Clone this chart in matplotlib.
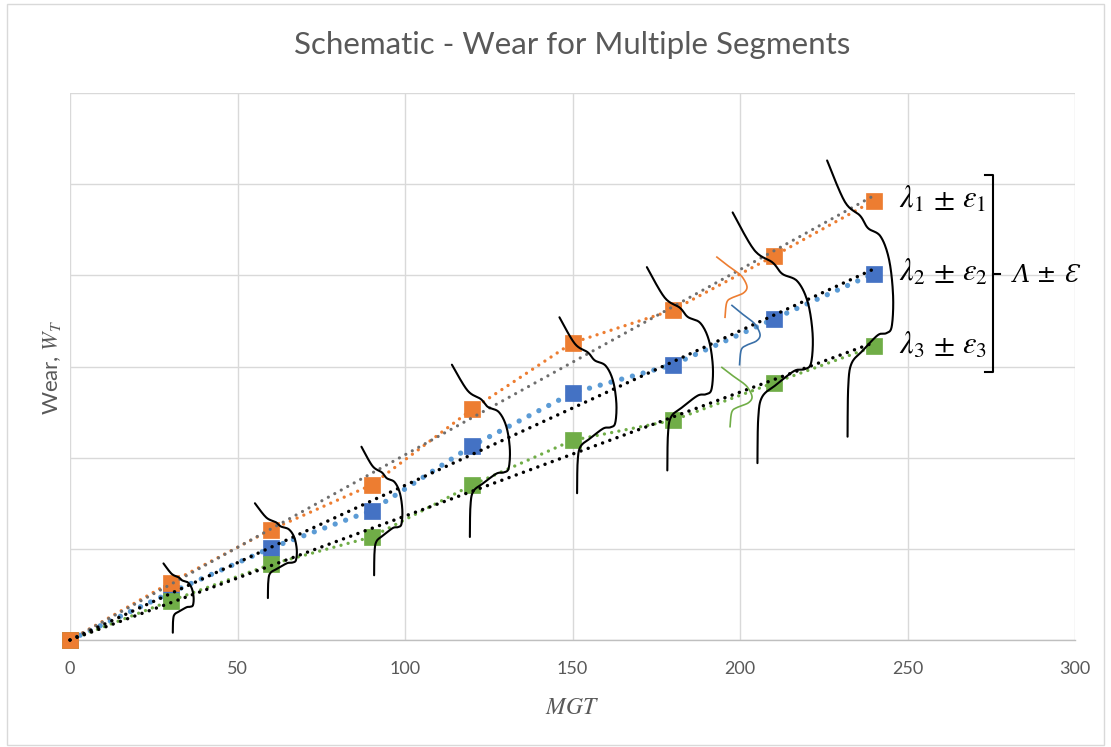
import numpy as np
import matplotlib
matplotlib.use('Agg')
import matplotlib.pyplot as plt
from matplotlib.patches import Rectangle

# ---------------- data ----------------
mgt = [0, 30, 60, 90, 120, 150, 180, 210, 240]
wear_seg1 = [0, 0.63, 1.21, 1.70, 2.53, 3.26, 3.62, 4.21, 4.82]
wear_seg2 = [0, 0.52, 1.01, 1.42, 2.13, 2.71, 3.02, 3.52, 4.02]
wear_seg3 = [0, 0.43, 0.83, 1.13, 1.70, 2.19, 2.41, 2.82, 3.22]
x_ticks = [0, 50, 100, 150, 200, 250, 300]
y_grid = [0, 1, 2, 3, 4, 5, 6]
seg_labels = [r'$\lambda_{\mathit{1}} \,\pm\, \varepsilon_{\mathit{1}}$',
              r'$\lambda_{\mathit{2}} \,\pm\, \varepsilon_{\mathit{2}}$',
              r'$\lambda_{\mathit{3}} \,\pm\, \varepsilon_{\mathit{3}}$']
total_label = 'Λ ± Ɛ'
title = 'Schematic - Wear for Multiple Segments'

# hand-drawn distribution sketches (annotation geometry, data units)
dist_left = [27.9, 55.2, 87.0, 114.0, 146.1, 172.2, 197.8, 226.0]
dist_width = [9.0, 12.5, 12.2, 17.3, 17.0, 19.7, 23.9, 19.7]
dist_top = [0.84, 1.50, 2.12, 3.02, 3.54, 4.09, 4.69, 5.26]
dist_bottom = [0.08, 0.46, 0.71, 1.13, 1.61, 1.86, 1.94, 2.23]
small_left = [193.1, 197.6, 194.6]
small_width = [9.0, 8.4, 9.0]
small_top = [4.20, 3.67, 2.99]
small_bottom = [3.54, 3.02, 2.34]

# normalised sketch templates (u across, v down)
big_u = [0, 0.27, 0.50, 0.62, 0.81, 0.94, 1.00, 0.98, 0.90, 0.77, 0.55, 0.37, 0.32, 0.31]
big_v = [0, 0.15, 0.20, 0.245, 0.275, 0.36, 0.49, 0.60, 0.625, 0.632, 0.686, 0.735, 0.82, 1.0]
small_u = [0, 0.33, 0.67, 0.87, 1.0, 0.87, 0.53, 0.33, 0.27]
small_v = [0, 0.13, 0.25, 0.35, 0.5, 0.6, 0.67, 0.75, 1.0]

ORANGE = '#ED7D31'
BLUE = '#4472C4'
LBLUE = '#5B9BD5'
GREEN = '#70AD47'
GRAY = '#6E6E6E'
TXT = '#595959'

plt.rcParams['font.family'] = ['Lato', 'DejaVu Sans']
plt.rcParams['mathtext.fontset'] = 'stix'


def catmull(xs, ys, n=16):
    p = np.column_stack([xs, ys]).astype(float)
    p = np.vstack([p[0], p, p[-1]])
    out = []
    t = np.linspace(0, 1, n, endpoint=False)[:, None]
    for i in range(1, len(p) - 2):
        p0, p1, p2, p3 = p[i - 1], p[i], p[i + 1], p[i + 2]
        seg = 0.5 * ((2 * p1) + (-p0 + p2) * t + (2 * p0 - 5 * p1 + 4 * p2 - p3) * t ** 2
                     + (-p0 + 3 * p1 - 3 * p2 + p3) * t ** 3)
        out.append(seg)
    out.append(p[-2][None, :])
    out = np.vstack(out)
    return out[:, 0], out[:, 1]


fig = plt.figure(figsize=(11.11, 7.47), dpi=100)
fig.patches.append(Rectangle((7 / 1111, 2 / 747), 1097 / 1111, 741 / 747,
                             transform=fig.transFigure, fill=False,
                             edgecolor='#D9D9D9', lw=1.0))
ax = fig.add_axes([70 / 1111, 1 - 640 / 747, 1005 / 1111, 547 / 747])
ax.set_xlim(0, 300)
ax.set_ylim(0, 6)

for s in ['top', 'right', 'left']:
    ax.spines[s].set_visible(False)
ax.spines['bottom'].set_color('#BFBFBF')
ax.spines['bottom'].set_linewidth(1.0)

ax.set_xticks(x_ticks)
ax.set_yticks(y_grid)
ax.set_yticklabels([])
ax.tick_params(axis='both', length=0)
ax.tick_params(axis='x', labelsize=13, labelcolor=TXT, pad=15)
ax.grid(True, color='#D9D9D9', lw=1.0, zorder=0)
ax.set_axisbelow(True)

dot = lambda g: (0, (0.01, g))

# series (line + marker)
ax.plot(mgt, wear_seg2, color=LBLUE, lw=3.8, ls=dot(2.1), dash_capstyle='round',
        zorder=3)
ax.plot(mgt, wear_seg2, 's', color=BLUE, ms=11.5, mec=BLUE, mew=0.5, zorder=3.05,
        clip_on=False)
ax.plot(mgt, wear_seg3, color=GREEN, lw=2.4, ls=dot(2.2), dash_capstyle='round',
        zorder=3.1)
ax.plot(mgt, wear_seg3, 's', color=GREEN, ms=11.5, mec=GREEN, mew=0.5, zorder=3.15,
        clip_on=False)
ax.plot(mgt, wear_seg1, color=ORANGE, lw=2.4, ls=dot(2.2), dash_capstyle='round',
        zorder=3.2)
ax.plot(mgt, wear_seg1, 's', color=ORANGE, ms=11.5, mec=ORANGE, mew=0.5, zorder=3.25,
        clip_on=False)

# linear trendlines through origin
xa = np.array(mgt, float)
for ys, col, lw, g in [(wear_seg1, GRAY, 2.3, 2.3), (wear_seg2, 'black', 2.5, 2.2),
                       (wear_seg3, 'black', 2.5, 2.2)]:
    slope = np.sum(xa * np.array(ys)) / np.sum(xa ** 2)
    ax.plot([0, xa[-1]], [0, slope * xa[-1]], color=col, lw=lw, ls=dot(g),
            dash_capstyle='round', zorder=4, clip_on=False)

# distribution sketches
for L, W, T, B in zip(dist_left, dist_width, dist_top, dist_bottom):
    cx = [L + u * W for u in big_u]
    cy = [T - v * (T - B) for v in big_v]
    sx, sy = catmull(cx, cy)
    ax.plot(sx, sy, color='black', lw=1.5, zorder=5, clip_on=False,
            solid_capstyle='round')
for L, W, T, B, col in zip(small_left, small_width, small_top, small_bottom,
                           [ORANGE, '#3A70A8', GREEN]):
    cx = [L + u * W for u in small_u]
    cy = [T - v * (T - B) for v in small_v]
    sx, sy = catmull(cx, cy)
    ax.plot(sx, sy, color=col, lw=1.2, zorder=5, clip_on=False)

# labels on the right
for lab, ys in zip(seg_labels, [wear_seg1, wear_seg2, wear_seg3]):
    ax.text(247.5, ys[-1] + 0.02, lab, fontsize=22, color='black', ha='left', va='center',
            zorder=6)
bx = 275.5
ax.plot([bx - 2.4, bx, bx, bx - 2.4], [5.10, 5.10, 2.94, 2.94], color='black', lw=1.5,
        clip_on=False, zorder=6)
ax.plot([bx, bx + 2.1], [4.02, 4.02], color='black', lw=1.5, clip_on=False, zorder=6)
ax.text(281.5, 4.0, total_label, fontsize=17, family=['DejaVu Serif'], style='italic',
        ha='left', va='center', color='black', zorder=6)

# titles
ax.set_title(title, fontsize=22.5, color=TXT, pad=0, y=(640 - 45) / 547, va='center')
ax.set_xlabel(r'$MGT$', fontsize=17, color=TXT)
ax.xaxis.set_label_coords(0.5, (640 - 707) / 547)
ax.xaxis.label.set_va('center')
ax.set_ylabel(r'Wear, $W_T$', fontsize=16, color=TXT)
ax.yaxis.set_label_coords((52 - 70) / 1005, (640 - 367) / 547)
ax.yaxis.label.set_va('center')

fig.savefig('out.png', dpi=100)
